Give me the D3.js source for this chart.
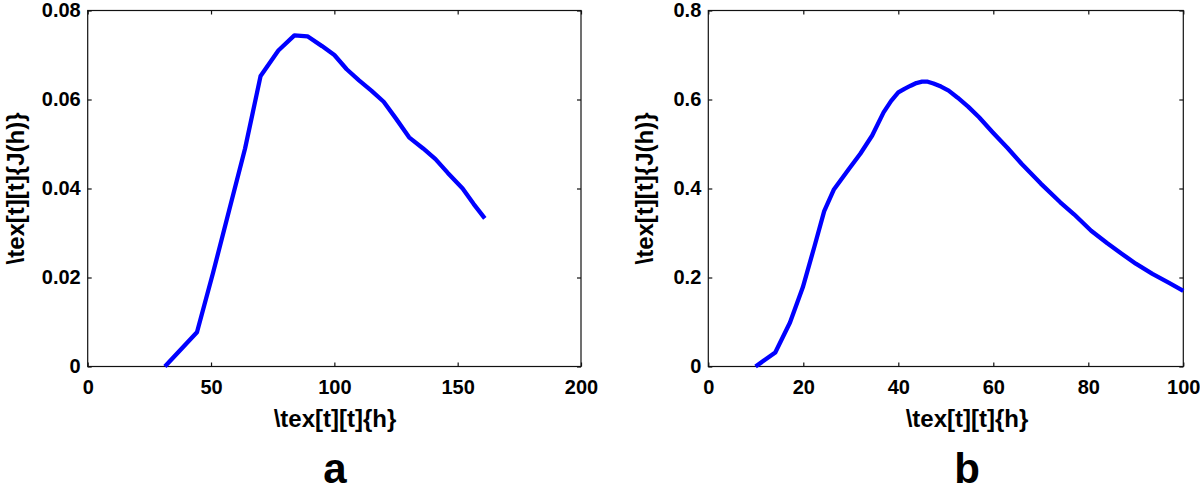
<!DOCTYPE html>
<html>
<head>
<meta charset="utf-8">
<script src="https://cdn.jsdelivr.net/npm/d3@7"></script>
<style>
  html, body { margin: 0; padding: 0; background: #fff; }
  svg { display: block; }
  text { font-family: "Liberation Sans", Arial, Helvetica, sans-serif; font-weight: bold; fill: #000; }
</style>
</head>
<body>
<svg id="chart" width="1200" height="494"></svg>
<script>
// ---- Data ----
const aX = [31.3, 44.3, 50.8, 57.3, 63.8, 70.1, 77.3, 83.8, 89.1, 95, 100, 105, 110, 115, 120, 125, 130.3, 136, 141, 146, 152, 156.5, 161];
const aY = [0, 0.0077, 0.021, 0.035, 0.049, 0.0653, 0.071, 0.0744, 0.0742, 0.072, 0.070, 0.0668, 0.0643, 0.062, 0.0595, 0.0557, 0.0515, 0.049, 0.0466, 0.0435, 0.040, 0.0365, 0.0333];

const bX = [9.95, 14.1, 17.2, 19.9, 22.3, 24.4, 26.4, 29.6, 32.0, 34.5, 36.9, 38.5, 40.0, 41.3, 42.6, 43.8, 45.0, 46.2, 47.4, 49.0, 50.6, 52.5, 54.7, 57.0, 59.9, 63.0, 66.0, 70.0, 74.1, 77.0, 80.6, 84.0, 87.1, 90.0, 93.5, 97.0, 100];
const bY = [0, 0.0315, 0.099, 0.178, 0.268, 0.349, 0.397, 0.444, 0.478, 0.519, 0.571, 0.597, 0.616, 0.624, 0.631, 0.637, 0.640, 0.640, 0.636, 0.629, 0.620, 0.604, 0.584, 0.560, 0.526, 0.491, 0.455, 0.411, 0.369, 0.342, 0.305, 0.277, 0.253, 0.231, 0.208, 0.188, 0.170];

const aXTicks = [0, 50, 100, 150, 200];
const aYTicks = [0, 0.02, 0.04, 0.06, 0.08];
const bXTicks = [0, 20, 40, 60, 80, 100];
const bYTicks = [0, 0.2, 0.4, 0.6, 0.8];

const xLabel = "\\tex[t][t]{h}";
const yLabel = "\\tex[t][t]{J(h)}";
const panelLabels = ["a", "b"];

// ---- Drawing ----
const svg = d3.select("#chart");

function panel(cfg) {
  const x = d3.scaleLinear().domain(cfg.xDomain).range([cfg.left, cfg.right]);
  const y = d3.scaleLinear().domain(cfg.yDomain).range([cfg.bottom, cfg.top]);
  const g = svg.append("g");
  const tick = 4;

  // frame
  g.append("rect")
    .attr("x", cfg.left).attr("y", cfg.top)
    .attr("width", cfg.right - cfg.left).attr("height", cfg.bottom - cfg.top)
    .attr("fill", "none").attr("stroke", "#111").attr("stroke-width", 1.2);

  const styleAxis = (sel, showLabels) => {
    sel.select(".domain").remove();
    sel.selectAll(".tick line").attr("stroke", "#111").attr("stroke-width", 1.2);
    sel.selectAll(".tick text")
      .style("font-size", "20px")
      .style("font-family", '"Liberation Sans", Arial, sans-serif')
      .style("font-weight", "bold")
      .attr("fill", "#000");
    if (!showLabels) sel.selectAll(".tick text").remove();
  };

  g.append("g").attr("transform", `translate(0,${cfg.bottom})`)
    .call(d3.axisBottom(x).tickValues(cfg.xTicks).tickSize(-tick).tickPadding(13).tickFormat(d3.format("")))
    .call(s => styleAxis(s, true));
  g.append("g").attr("transform", `translate(0,${cfg.top})`)
    .call(d3.axisTop(x).tickValues(cfg.xTicks).tickSize(-tick))
    .call(s => styleAxis(s, false));
  g.append("g").attr("transform", `translate(${cfg.left},0)`)
    .call(d3.axisLeft(y).tickValues(cfg.yTicks).tickSize(-tick).tickPadding(7).tickFormat(d3.format("")))
    .call(s => styleAxis(s, true));
  g.append("g").attr("transform", `translate(${cfg.right},0)`)
    .call(d3.axisRight(y).tickValues(cfg.yTicks).tickSize(-tick))
    .call(s => styleAxis(s, false));

  // curve
  const data = cfg.xs.map((v, i) => [v, cfg.ys[i]]);
  g.append("path")
    .datum(data)
    .attr("fill", "none")
    .attr("stroke", "#0000ff")
    .attr("stroke-width", 4.3)
    .attr("stroke-linejoin", "round")
    .attr("d", d3.line().x(d => x(d[0])).y(d => y(d[1])));

  // labels
  g.append("text")
    .attr("x", cfg.labelCx).attr("y", 427)
    .attr("text-anchor", "middle")
    .style("font-size", "24px")
    .text(xLabel);
  g.append("text")
    .attr("transform", `translate(${cfg.yLabelX},${(cfg.top + cfg.bottom) / 2}) rotate(-90)`)
    .attr("text-anchor", "middle")
    .style("font-size", "24px")
    .text(yLabel);
  g.append("text")
    .attr("x", cfg.labelCx).attr("y", 483)
    .attr("text-anchor", "middle")
    .style("font-size", "42px")
    .text(cfg.panel);
}

panel({
  left: 87.7, right: 581, top: 10.5, bottom: 366.5,
  xDomain: [0, 200], yDomain: [0, 0.08],
  xTicks: aXTicks, yTicks: aYTicks,
  xs: aX, ys: aY,
  labelCx: 335, yLabelX: 24, panel: panelLabels[0]
});

panel({
  left: 708.3, right: 1183.3, top: 10.5, bottom: 366.5,
  xDomain: [0, 100], yDomain: [0, 0.8],
  xTicks: bXTicks, yTicks: bYTicks,
  xs: bX, ys: bY,
  labelCx: 967, yLabelX: 653, panel: panelLabels[1]
});
</script>
</body>
</html>
